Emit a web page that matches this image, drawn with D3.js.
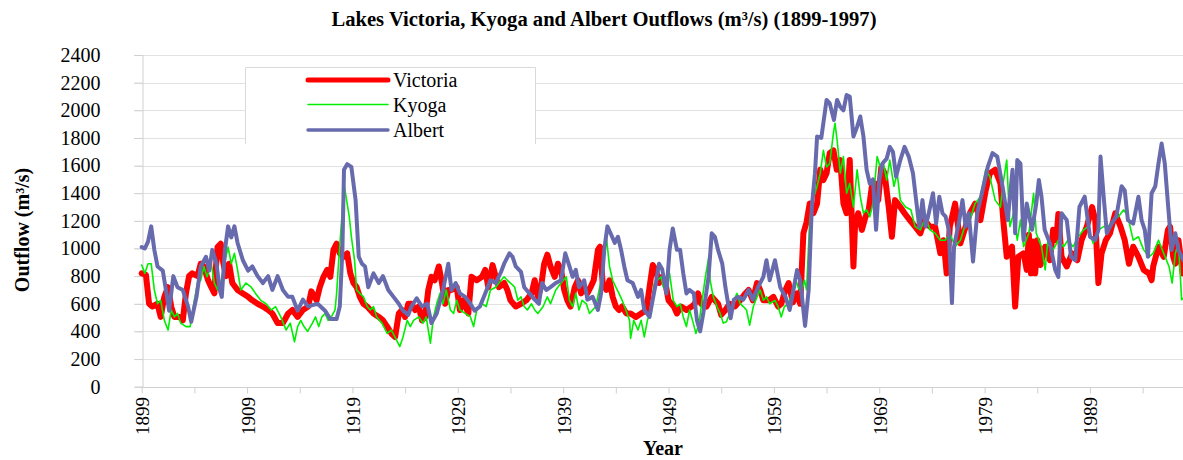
<!DOCTYPE html>
<html lang="en">
<head>
  <meta charset="utf-8">
  <title>Lake outflows</title>
  <script src="https://d3js.org/d3.v7.min.js" charset="utf-8"></script>
  <style>
    body { margin: 0; background: #fff; }
    text { font-family: "Liberation Serif", "Times New Roman", serif; fill: #000; }
    .grid line { stroke: #e2e2e2; stroke-width: 1; }
    .series { fill: none; stroke-linejoin: round; stroke-linecap: round; }
  </style>
</head>
<body>
  <script>
    // values: [year, outflow m3/s]
    var victoria = [[1899.0,820],[1899.4,810],[1899.7,600],[1900.0,580],[1900.5,600],[1900.8,505],[1901.15,650],[1901.5,720],[1901.8,580],[1902.1,505],[1902.6,505],[1902.9,480],[1903.2,675],[1903.5,800],[1903.8,820],[1904.3,800],[1904.6,890],[1904.9,870],[1905.3,770],[1905.6,720],[1905.9,675],[1906.05,870],[1906.2,1010],[1906.5,1035],[1906.7,915],[1907.0,800],[1907.3,890],[1907.6,750],[1908.1,700],[1908.6,675],[1909.1,650],[1909.5,625],[1910.0,600],[1910.5,580],[1911.0,555],[1911.4,530],[1911.9,460],[1912.4,460],[1912.9,530],[1913.3,555],[1913.8,505],[1914.3,555],[1914.8,580],[1915.1,690],[1915.6,625],[1915.9,720],[1916.25,795],[1916.6,845],[1916.9,795],[1917.2,990],[1917.5,1035],[1917.8,965],[1918.15,940],[1918.5,965],[1918.8,820],[1919.1,750],[1919.4,720],[1919.7,650],[1920.05,600],[1920.4,580],[1920.7,555],[1921.0,530],[1921.5,505],[1921.9,480],[1922.3,435],[1922.7,385],[1923.05,360],[1923.4,530],[1923.7,555],[1924.0,505],[1924.3,600],[1924.6,600],[1924.95,555],[1925.3,580],[1925.6,480],[1925.9,505],[1926.2,700],[1926.5,795],[1926.8,770],[1927.2,870],[1927.5,750],[1927.8,600],[1928.1,700],[1928.4,700],[1928.9,720],[1929.2,555],[1929.5,625],[1930.0,530],[1930.3,795],[1930.8,770],[1931.3,795],[1931.6,845],[1931.9,720],[1932.3,880],[1932.6,795],[1932.9,720],[1933.4,750],[1933.7,700],[1934.0,625],[1934.5,580],[1935.0,600],[1935.5,625],[1936.0,675],[1936.3,770],[1936.6,650],[1936.9,720],[1937.2,890],[1937.5,955],[1937.8,870],[1938.2,795],[1938.5,890],[1938.8,845],[1939.1,700],[1939.4,625],[1939.7,580],[1940.1,720],[1940.4,770],[1940.7,675],[1941.0,720],[1941.3,675],[1941.6,720],[1941.9,770],[1942.3,990],[1942.5,1013],[1942.75,750],[1943.1,700],[1943.4,770],[1943.7,650],[1944.0,580],[1944.3,555],[1944.6,580],[1945.0,530],[1945.4,530],[1945.9,505],[1946.4,530],[1946.9,555],[1947.2,720],[1947.5,880],[1947.8,845],[1948.1,750],[1948.4,795],[1948.75,730],[1949.0,625],[1949.5,580],[1949.8,530],[1950.2,580],[1950.7,555],[1951.2,580],[1951.5,600],[1951.8,675],[1952.1,600],[1952.6,580],[1953.1,650],[1953.4,625],[1953.7,600],[1954.0,520],[1954.4,555],[1954.8,600],[1955.3,580],[1955.8,625],[1956.3,675],[1956.6,700],[1957.0,625],[1957.4,750],[1957.7,700],[1958.0,625],[1958.5,625],[1958.95,650],[1959.4,580],[1959.7,600],[1960.1,700],[1960.4,750],[1960.8,610],[1961.2,675],[1961.5,600],[1961.8,1110],[1962.1,1190],[1962.4,1325],[1962.75,1255],[1963.1,1325],[1963.4,1570],[1963.7,1495],[1964.0,1545],[1964.3,1690],[1964.65,1710],[1964.97,1570],[1965.3,1640],[1965.6,1325],[1965.9,1255],[1966.2,1640],[1966.55,870],[1966.7,1158],[1967.0,1255],[1967.35,1135],[1967.7,1230],[1968.0,1280],[1968.3,1450],[1968.6,1470],[1968.9,1350],[1969.2,1590],[1969.5,1545],[1969.9,1300],[1970.2,1085],[1970.5,1350],[1971.0,1300],[1971.4,1255],[1971.9,1205],[1972.4,1158],[1972.9,1110],[1973.3,1205],[1973.8,1158],[1974.3,1158],[1974.8,965],[1975.1,1060],[1975.4,820],[1975.7,1158],[1976.2,1325],[1976.7,1037],[1977.2,1158],[1977.6,1255],[1978.1,1325],[1978.6,1205],[1979.1,1420],[1979.5,1545],[1980.0,1570],[1980.5,1470],[1980.8,1180],[1981.1,940],[1981.6,1013],[1981.9,580],[1982.2,940],[1982.7,965],[1983.0,845],[1983.2,1100],[1983.4,820],[1983.6,1050],[1983.8,820],[1984.0,1060],[1984.3,880],[1984.75,1013],[1985.2,915],[1985.5,1135],[1985.8,1060],[1986.0,1250],[1986.3,940],[1986.8,870],[1987.3,965],[1987.8,915],[1988.2,1060],[1988.7,1158],[1989.2,1300],[1989.5,1205],[1989.8,750],[1990.1,965],[1990.5,1060],[1990.9,1110],[1991.4,1255],[1991.9,1158],[1992.3,1060],[1992.7,890],[1993.1,1013],[1993.6,940],[1994.1,845],[1994.6,820],[1994.85,770],[1995.0,870],[1995.5,1013],[1996.0,940],[1996.4,1135],[1996.6,1158],[1996.9,940],[1997.1,890],[1997.4,1060],[1997.8,820],[1998.0,900]];

    var kyoga = [[1899.0,880],[1899.3,820],[1899.6,890],[1899.9,890],[1900.2,700],[1900.5,600],[1900.8,625],[1901.15,480],[1901.5,410],[1901.8,555],[1902.1,505],[1902.4,530],[1902.7,460],[1903.2,435],[1903.6,435],[1904.0,625],[1904.3,750],[1904.6,770],[1904.9,870],[1905.2,795],[1905.6,890],[1905.9,750],[1906.2,700],[1906.5,750],[1906.8,870],[1907.2,1010],[1907.5,890],[1907.8,965],[1908.1,845],[1908.4,700],[1908.9,750],[1909.4,720],[1909.8,675],[1910.3,625],[1910.8,600],[1911.3,555],[1911.7,580],[1912.2,505],[1912.7,410],[1913.1,460],[1913.5,325],[1913.8,435],[1914.1,480],[1914.4,435],[1914.75,400],[1915.2,460],[1915.5,505],[1915.8,435],[1916.1,505],[1916.4,530],[1916.7,480],[1917.0,505],[1917.35,555],[1917.5,675],[1917.7,915],[1918.0,1230],[1918.2,1470],[1918.5,1325],[1918.7,1230],[1918.9,1085],[1919.2,915],[1919.4,700],[1919.7,675],[1920.05,650],[1920.4,580],[1920.7,555],[1921.0,580],[1921.3,505],[1921.8,460],[1922.3,385],[1922.7,410],[1923.2,335],[1923.5,290],[1923.8,360],[1924.2,480],[1924.5,435],[1924.8,480],[1925.3,505],[1925.7,460],[1926.0,505],[1926.4,315],[1926.7,505],[1927.0,600],[1927.3,675],[1927.6,600],[1927.9,700],[1928.3,555],[1928.6,530],[1928.9,625],[1929.2,555],[1929.7,530],[1930.2,505],[1930.5,435],[1930.8,555],[1931.3,600],[1931.7,580],[1932.1,700],[1932.6,720],[1933.1,770],[1933.4,795],[1933.7,770],[1934.0,750],[1934.4,720],[1934.7,625],[1935.0,650],[1935.3,580],[1935.6,555],[1936.0,600],[1936.3,555],[1936.6,530],[1937.1,580],[1937.5,650],[1937.8,600],[1938.3,700],[1938.8,750],[1939.3,795],[1939.6,625],[1939.9,580],[1940.2,675],[1940.5,555],[1940.8,625],[1941.2,600],[1941.5,530],[1941.8,555],[1942.1,580],[1942.6,770],[1942.8,870],[1943.1,1085],[1943.4,870],[1943.7,770],[1944.0,720],[1944.3,675],[1944.6,625],[1944.95,555],[1945.3,480],[1945.4,350],[1945.7,480],[1946.1,410],[1946.4,480],[1946.7,360],[1947.0,480],[1947.3,555],[1947.65,750],[1947.95,770],[1948.3,795],[1948.5,720],[1948.8,750],[1949.1,820],[1949.45,625],[1949.8,580],[1950.1,600],[1950.4,505],[1950.7,435],[1951.0,555],[1951.35,460],[1951.6,385],[1951.9,460],[1952.1,580],[1952.5,795],[1952.8,930],[1952.95,770],[1953.25,650],[1953.6,580],[1953.9,530],[1954.2,460],[1954.5,470],[1954.8,530],[1955.2,625],[1955.5,675],[1955.8,600],[1956.1,580],[1956.4,555],[1956.7,445],[1957.05,580],[1957.4,650],[1957.7,700],[1958.0,625],[1958.3,650],[1958.6,600],[1959.1,625],[1959.4,580],[1959.7,505],[1960.0,580],[1960.4,600],[1960.7,675],[1961.0,795],[1961.3,720],[1961.6,675],[1961.9,770],[1962.1,700],[1962.4,1200],[1962.7,1350],[1963.1,1450],[1963.4,1545],[1963.7,1710],[1964.0,1590],[1964.3,1615],[1964.65,1835],[1964.8,1905],[1965.0,1785],[1965.3,1545],[1965.6,1665],[1965.9,1400],[1966.2,1470],[1966.55,1300],[1966.9,1570],[1967.2,1375],[1967.5,1255],[1967.8,1280],[1968.1,1230],[1968.4,1325],[1968.8,1665],[1969.1,1590],[1969.4,1615],[1969.7,1495],[1970.0,1640],[1970.4,1450],[1970.7,1545],[1971.0,1350],[1971.5,1300],[1972.0,1280],[1972.4,1158],[1972.9,1135],[1973.4,1230],[1973.8,1135],[1974.3,1110],[1974.8,1060],[1975.25,1060],[1975.7,1110],[1976.2,1013],[1976.7,1060],[1977.2,1180],[1977.6,1205],[1978.1,1325],[1978.6,1375],[1979.1,1570],[1979.5,1520],[1980.0,1350],[1980.5,1300],[1980.8,1495],[1981.1,1640],[1981.4,1158],[1981.75,1255],[1982.1,1060],[1982.4,1205],[1982.7,1013],[1983.2,1110],[1983.65,1400],[1983.9,1110],[1984.4,1013],[1984.75,845],[1985.0,1060],[1985.5,990],[1986.0,1060],[1986.5,1013],[1986.9,1060],[1987.4,1013],[1987.9,1085],[1988.4,1135],[1988.8,1158],[1989.3,1037],[1989.8,1135],[1990.3,1158],[1990.7,1158],[1991.2,1205],[1991.7,1230],[1992.2,1280],[1992.6,1230],[1993.1,1060],[1993.6,1085],[1994.1,990],[1994.6,940],[1995.0,965],[1995.5,1060],[1996.0,965],[1996.5,870],[1996.8,750],[1997.1,965],[1997.4,1037],[1997.7,630],[1998.0,650]];

    var albert = [[1899.0,1010],[1899.3,1000],[1899.6,1050],[1899.9,1160],[1900.2,990],[1900.5,870],[1901.0,840],[1901.3,700],[1901.6,550],[1902.0,800],[1902.4,720],[1902.9,700],[1903.4,580],[1903.7,470],[1904.2,650],[1904.6,870],[1905.1,940],[1905.4,840],[1905.7,990],[1906.1,890],[1906.4,700],[1906.6,650],[1906.9,990],[1907.2,1160],[1907.5,1080],[1907.8,1160],[1908.1,1040],[1908.6,915],[1909.1,840],[1909.5,870],[1910.0,800],[1910.5,750],[1911.0,800],[1911.4,700],[1911.9,800],[1912.4,700],[1912.9,650],[1913.3,650],[1913.8,550],[1914.3,630],[1914.8,580],[1915.2,590],[1915.7,600],[1916.4,550],[1916.9,490],[1917.5,490],[1917.8,580],[1918.05,990],[1918.2,1570],[1918.5,1610],[1918.9,1590],[1919.3,1350],[1919.6,940],[1919.9,890],[1920.2,870],[1920.5,720],[1921.0,820],[1921.5,750],[1921.9,800],[1922.4,700],[1922.9,650],[1923.4,600],[1923.8,550],[1924.3,520],[1924.6,580],[1925.1,640],[1925.6,580],[1926.1,600],[1926.5,460],[1927.0,530],[1927.6,700],[1928.1,890],[1928.4,700],[1928.8,750],[1929.2,675],[1929.7,650],[1930.2,600],[1930.6,550],[1931.1,580],[1931.6,675],[1932.1,770],[1932.6,750],[1933.1,830],[1933.4,890],[1933.9,965],[1934.2,940],[1934.5,870],[1935.0,830],[1935.3,720],[1935.8,675],[1936.3,630],[1936.7,600],[1937.0,750],[1937.4,700],[1937.8,720],[1938.3,750],[1938.8,770],[1939.2,965],[1939.6,870],[1939.9,795],[1940.2,845],[1940.5,720],[1941.0,770],[1941.3,630],[1941.8,650],[1942.3,555],[1942.6,675],[1942.9,990],[1943.2,1160],[1943.5,1110],[1943.9,1040],[1944.2,1085],[1944.5,990],[1944.8,870],[1945.1,770],[1945.6,750],[1946.1,650],[1946.4,700],[1946.7,555],[1947.2,505],[1947.5,630],[1947.8,750],[1948.1,890],[1948.4,850],[1948.8,675],[1949.1,990],[1949.4,1145],[1949.8,990],[1950.1,990],[1950.4,820],[1950.7,675],[1951.0,700],[1951.4,675],[1951.7,480],[1952.0,400],[1952.3,530],[1952.8,795],[1953.1,1110],[1953.4,1085],[1953.7,990],[1954.1,890],[1954.4,720],[1954.7,580],[1954.9,495],[1955.2,630],[1955.6,650],[1956.1,630],[1956.6,700],[1957.0,630],[1957.5,720],[1958.0,795],[1958.3,915],[1958.6,770],[1959.1,915],[1959.6,720],[1960.1,650],[1960.5,555],[1960.8,675],[1961.2,845],[1961.5,770],[1961.8,555],[1961.96,440],[1962.3,700],[1962.6,1300],[1962.9,1545],[1963.1,1810],[1963.5,1800],[1964.0,2075],[1964.3,2050],[1964.7,1930],[1965.0,2075],[1965.3,2025],[1965.6,2000],[1965.9,2110],[1966.2,2100],[1966.55,1810],[1966.9,1880],[1967.2,1955],[1967.5,1810],[1967.8,1570],[1968.1,1470],[1968.4,1500],[1968.7,1135],[1969.0,1495],[1969.3,1615],[1969.7,1650],[1970.0,1735],[1970.3,1700],[1970.6,1520],[1971.0,1640],[1971.4,1735],[1971.8,1665],[1972.2,1545],[1972.5,1350],[1972.8,1158],[1973.1,1350],[1973.4,1158],[1973.7,1255],[1974.1,1400],[1974.4,1180],[1974.7,1375],[1975.0,1255],[1975.3,1230],[1975.6,1135],[1975.9,605],[1976.1,1013],[1976.6,1205],[1976.9,1350],[1977.2,1158],[1977.5,1255],[1977.9,905],[1978.3,1255],[1978.8,1420],[1979.3,1590],[1979.75,1690],[1980.2,1665],[1980.7,1450],[1981.2,1205],[1981.4,1375],[1981.65,1570],[1981.9,1110],[1982.1,1640],[1982.4,1615],[1982.7,1060],[1983.0,1325],[1983.5,1135],[1983.9,1325],[1984.15,1495],[1984.4,1375],[1984.7,1135],[1985.2,1037],[1985.7,845],[1986.0,795],[1986.3,1255],[1986.8,1205],[1987.2,940],[1987.6,915],[1988.0,1300],[1988.5,1375],[1989.0,1085],[1989.5,1060],[1989.8,1135],[1990.0,1665],[1990.3,1375],[1990.6,1110],[1991.05,1180],[1991.5,1230],[1992.0,1450],[1992.3,1420],[1992.6,1205],[1993.1,1180],[1993.6,1375],[1993.9,1205],[1994.2,1135],[1994.5,940],[1994.85,1400],[1995.2,1450],[1995.5,1615],[1995.8,1760],[1996.1,1615],[1996.4,1325],[1996.75,990],[1997.1,1110],[1997.4,990],[1997.7,940],[1998.0,900]];

    var seriesNames = ["Victoria", "Kyoga", "Albert"];
    var yTicks = d3.range(0, 2401, 200);
    var yearLabels = d3.range(1899, 1998, 10);
    var yearTicks = d3.range(1899, 1998, 5);

    var width = 1183;
    var height = 460;

    var svg = d3.select("body")
      .append("svg")
      .attr("width", width)
      .attr("height", height);

    var x = d3.scaleLinear()
      .domain([1899, 1998])
      .range([141.7, 1184.8]);

    var y = d3.scaleLinear()
      .domain([0, 2400])
      .range([386.7, 55]);

    // horizontal grid, starts a little left of the axis like excel's tick marks
    svg.append("g")
      .attr("class", "grid")
      .selectAll("line")
      .data(yTicks.filter(function(d) { return d > 0; }))
      .enter()
      .append("line")
      .attr("x1", 134)
      .attr("x2", width)
      .attr("y1", function(d) { return Math.round(y(d)) + 0.5; })
      .attr("y2", function(d) { return Math.round(y(d)) + 0.5; });

    // y axis
    var yAxis = svg.append("g")
      .attr("transform", "translate(" + (Math.round(x(1899)) + 0.5) + ",0)")
      .call(d3.axisLeft(y).tickValues(yTicks).tickFormat(d3.format("d")).tickSize(8).tickPadding(34));
    yAxis.select(".domain").attr("stroke", "#d0d0d0");
    yAxis.selectAll(".tick line").attr("stroke", "#d0d0d0");
    yAxis.selectAll(".tick text")
      .style("font-family", '"Liberation Serif", serif')
      .style("font-size", "20px")
      .attr("fill", "#000");

    // x axis, minor ticks every 5 years, labels every 10
    var xAxis = svg.append("g")
      .attr("transform", "translate(0," + (Math.round(y(0)) + 0.5) + ")")
      .call(d3.axisBottom(x).tickValues(yearTicks).tickSize(6).tickFormat(""));
    xAxis.select(".domain").attr("d", "M" + x(1899) + ",0H" + width).attr("stroke", "#d0d0d0");
    xAxis.selectAll(".tick line").attr("stroke", "#d0d0d0");

    svg.append("g")
      .selectAll("text")
      .data(yearLabels)
      .enter()
      .append("text")
      .attr("transform", function(d) { return "translate(" + (x(d) + 1) + ",397) rotate(-90)"; })
      .attr("text-anchor", "end")
      .attr("dominant-baseline", "central")
      .style("font-size", "19px")
      .text(function(d) { return d; });

    // the three outflow lines
    var line = d3.line()
      .x(function(d) { return x(d[0]); })
      .y(function(d) { return y(d[1]); });

    var styles = {
      Victoria: { data: victoria, color: "#ff0000", width: 6 },
      Kyoga: { data: kyoga, color: "#00ee00", width: 1.6 },
      Albert: { data: albert, color: "#676bad", width: 4 }
    };

    svg.append("clipPath")
      .attr("id", "plot")
      .append("rect")
      .attr("x", 0).attr("y", 0)
      .attr("width", width).attr("height", y(0));

    svg.append("g")
      .attr("clip-path", "url(#plot)")
      .selectAll("path")
      .data(seriesNames)
      .enter()
      .append("path")
      .attr("class", "series")
      .attr("stroke", function(d) { return styles[d].color; })
      .attr("stroke-width", function(d) { return styles[d].width; })
      .attr("d", function(d) { return line(styles[d].data); });

    // legend box (open at the bottom)
    var legend = svg.append("g");
    legend.append("rect")
      .attr("x", 245).attr("y", 67)
      .attr("width", 290).attr("height", 77)
      .attr("fill", "#fff");
    legend.append("path")
      .attr("d", "M245.5,144V67.5H535.5V144")
      .attr("fill", "none")
      .attr("stroke", "#d9d9d9");

    var legendY = { Victoria: 80, Kyoga: 104.5, Albert: 130 };
    legend.selectAll("line")
      .data(seriesNames)
      .enter()
      .append("line")
      .attr("x1", 308).attr("x2", 388)
      .attr("y1", function(d) { return legendY[d]; })
      .attr("y2", function(d) { return legendY[d]; })
      .attr("stroke", function(d) { return styles[d].color; })
      .attr("stroke-width", function(d) { return d == "Victoria" ? 5 : (d == "Kyoga" ? 1.5 : 3.5); })
      .attr("stroke-linecap", "round");
    legend.selectAll("text")
      .data(seriesNames)
      .enter()
      .append("text")
      .attr("x", 393)
      .attr("y", function(d) { return legendY[d]; })
      .attr("dominant-baseline", "central")
      .style("font-size", "20px")
      .text(function(d) { return d; });

    // titles
    svg.append("text")
      .attr("x", 604)
      .attr("y", 26)
      .attr("text-anchor", "middle")
      .style("font-size", "20.6px")
      .style("font-weight", "bold")
      .text("Lakes Victoria, Kyoga and Albert Outflows (m³/s) (1899-1997)");

    svg.append("text")
      .attr("transform", "translate(29,230) rotate(-90)")
      .attr("text-anchor", "middle")
      .style("font-size", "20px")
      .style("font-weight", "bold")
      .text("Outflow (m³/s)");

    svg.append("text")
      .attr("x", 663)
      .attr("y", 455)
      .attr("text-anchor", "middle")
      .style("font-size", "20px")
      .style("font-weight", "bold")
      .text("Year");
  </script>
</body>
</html>
